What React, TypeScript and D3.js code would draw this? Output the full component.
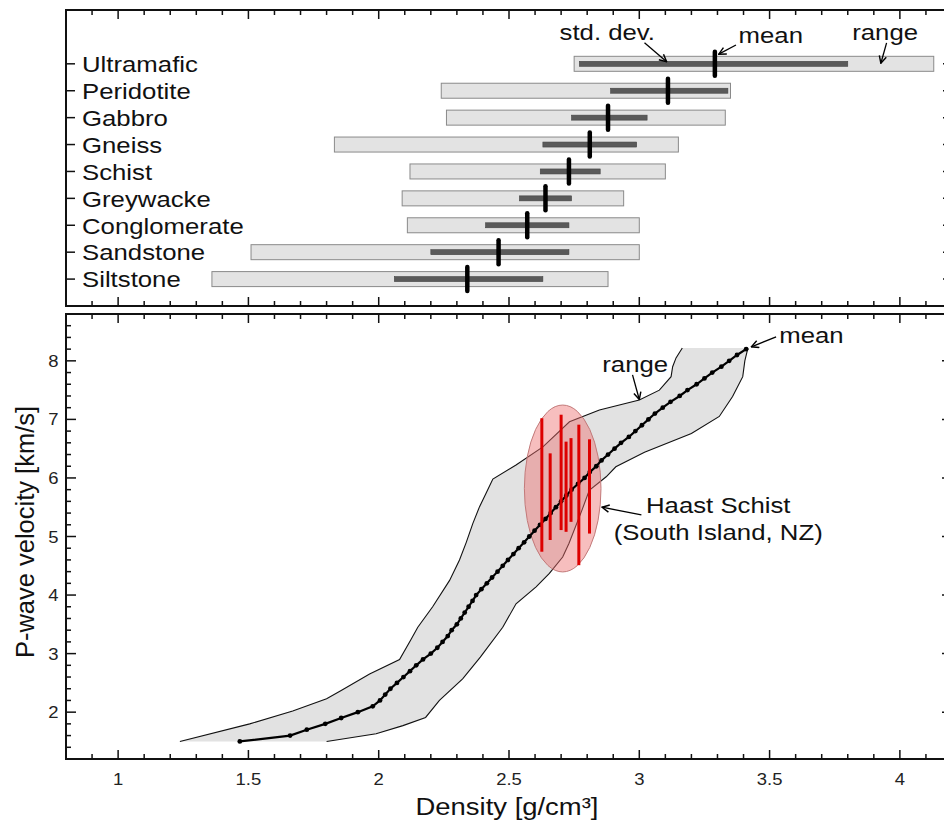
import React, { useEffect, useRef } from 'react'
import * as d3 from 'd3'

// top panel: density of rock types
const rockTypes = ['Siltstone', 'Sandstone', 'Conglomerate', 'Greywacke', 'Schist', 'Gneiss', 'Gabbro', 'Peridotite', 'Ultramafic']
const rangeMin = [1.36, 1.51, 2.11, 2.09, 2.12, 1.83, 2.26, 2.24, 2.75]
const rangeMax = [2.88, 3.0, 3.0, 2.94, 3.1, 3.15, 3.33, 3.35, 4.13]
const sdMin = [2.06, 2.2, 2.41, 2.54, 2.62, 2.63, 2.74, 2.89, 2.77]
const sdMax = [2.63, 2.73, 2.73, 2.74, 2.85, 2.99, 3.03, 3.34, 3.8]
const meanDensity = [2.34, 2.46, 2.57, 2.64, 2.73, 2.81, 2.88, 3.11, 3.29]

// bottom panel: Vp vs density
const meanVel = [1.5, 1.6, 1.7, 1.8, 1.9, 2.0, 2.1, 2.2, 2.3, 2.4, 2.5, 2.6, 2.7, 2.8, 2.9, 3.0, 3.1, 3.2, 3.3, 3.4, 3.5, 3.6, 3.7, 3.8, 3.9, 4.0, 4.1, 4.2, 4.3, 4.4, 4.5, 4.6, 4.7, 4.8, 4.9, 5.0, 5.1, 5.2, 5.3, 5.4, 5.5, 5.6, 5.7, 5.8, 5.9, 6.0, 6.1, 6.2, 6.3, 6.4, 6.5, 6.6, 6.7, 6.8, 6.9, 7.0, 7.1, 7.2, 7.3, 7.4, 7.5, 7.6, 7.7, 7.8, 7.9, 8.0, 8.1, 8.2]
const meanDens = [1.467, 1.66, 1.724, 1.795, 1.856, 1.92, 1.977, 2.005, 2.025, 2.045, 2.07, 2.095, 2.12, 2.144, 2.17, 2.2, 2.225, 2.245, 2.265, 2.28, 2.3, 2.315, 2.33, 2.345, 2.36, 2.374, 2.394, 2.415, 2.435, 2.456, 2.476, 2.496, 2.517, 2.537, 2.558, 2.578, 2.598, 2.619, 2.64, 2.66, 2.68, 2.7, 2.72, 2.74, 2.765, 2.79, 2.81, 2.835, 2.855, 2.88, 2.905, 2.93, 2.96, 2.985, 3.01, 3.035, 3.06, 3.09, 3.12, 3.155, 3.185, 3.22, 3.25, 3.28, 3.315, 3.345, 3.375, 3.41]

const lowVel = [1.5, 1.8, 2.02, 2.23, 2.37, 2.65, 2.9, 3.25, 3.45, 3.8, 4.25, 4.6, 4.9, 5.22, 5.51, 5.74, 5.98, 6.22, 6.53, 6.96, 7.16, 7.33, 7.5, 7.73, 7.9, 8.05, 8.22]
const lowDens = [1.237, 1.505, 1.67, 1.8, 1.856, 1.965, 2.08, 2.125, 2.15, 2.207, 2.272, 2.31, 2.336, 2.361, 2.387, 2.412, 2.438, 2.527, 2.63, 2.732, 2.847, 3.0, 3.077, 3.122, 3.128, 3.141, 3.165]
const highVel = [1.5, 1.63, 1.77, 1.91, 2.2, 2.57, 2.94, 3.45, 3.85, 4.14, 4.37, 4.65, 4.88, 5.45, 5.79, 6.02, 6.19, 6.44, 6.76, 7.05, 7.39, 7.73, 8.0, 8.22]
const highDens = [1.8, 1.99, 2.093, 2.18, 2.233, 2.322, 2.39, 2.476, 2.527, 2.604, 2.655, 2.706, 2.73, 2.78, 2.808, 2.873, 2.91, 3.02, 3.2, 3.307, 3.358, 3.397, 3.405, 3.417]

// Haast Schist samples
const haastDens = [2.626, 2.658, 2.7, 2.719, 2.738, 2.768, 2.809]
const haastVmin = [4.74, 4.94, 5.11, 5.08, 5.25, 4.51, 5.05]
const haastVmax = [7.02, 6.42, 7.08, 6.62, 6.68, 6.91, 6.66]

const W = 944
const H = 823
const FONT = '"Liberation Sans", Arial, sans-serif'
const SX = 1.12

export default function App() {
  const ref = useRef<SVGSVGElement>(null)

  useEffect(() => {
    const svg = d3.select(ref.current)
    svg.selectAll('*').remove()

    const left = 66, right = 952
    const top1 = 10, bot1 = 306
    const top2 = 314, bot2 = 759

    const x = d3.scaleLinear().domain([0.8, 4.2]).range([left, right])
    const yCat = d3.scaleLinear().domain([0, 11]).range([bot1, top1])
    const yV = d3.scaleLinear().domain([1.2, 8.8]).range([bot2, top2])

    const defs = svg.append('defs')
    defs.append('marker')
      .attr('id', 'arr')
      .attr('viewBox', '0 0 10 10')
      .attr('refX', 9).attr('refY', 5)
      .attr('markerWidth', 9).attr('markerHeight', 9)
      .attr('markerUnits', 'userSpaceOnUse')
      .attr('orient', 'auto')
      .append('path')
      .attr('d', 'M1,1 L9,5 L1,9')
      .attr('fill', 'none')
      .attr('stroke', '#000')
      .attr('stroke-width', 1.6)

    const text = (g: any, px: number, py: number, s: string, size: number, anchor = 'start') =>
      g.append('text')
        .attr('transform', `translate(${px},${py}) scale(${SX},1)`)
        .attr('text-anchor', anchor)
        .attr('font-family', FONT)
        .attr('font-size', size)
        .attr('fill', '#111')
        .text(s)

    const arrow = (g: any, x1: number, y1: number, x2: number, y2: number) =>
      g.append('line')
        .attr('x1', x1).attr('y1', y1).attr('x2', x2).attr('y2', y2)
        .attr('stroke', '#000').attr('stroke-width', 1.3)
        .attr('marker-end', 'url(#arr)')

    const xMajor = x.ticks(7)
    const xMinor = x.ticks(34)

    const xTicks = (g: any, yPos: number, dir: number) => {
      xMinor.forEach((t) => {
        const len = xMajor.some((m) => Math.abs(m - t) < 1e-6) ? 9 : 5
        g.append('line')
          .attr('x1', x(t)).attr('x2', x(t))
          .attr('y1', yPos).attr('y2', yPos + dir * len)
          .attr('stroke', '#111').attr('stroke-width', 1.5)
      })
    }

    // ---------- top panel ----------
    const g1 = svg.append('g')

    rockTypes.forEach((name, i) => {
      const cy = yCat(i + 1)
      g1.append('rect')
        .attr('x', x(rangeMin[i]))
        .attr('y', cy - 7.5)
        .attr('width', x(rangeMax[i]) - x(rangeMin[i]))
        .attr('height', 15)
        .attr('fill', '#e3e3e3')
        .attr('stroke', '#8a8a8a')
        .attr('stroke-width', 1)
      g1.append('rect')
        .attr('x', x(sdMin[i]))
        .attr('y', cy - 2.5)
        .attr('width', x(sdMax[i]) - x(sdMin[i]))
        .attr('height', 5)
        .attr('fill', '#5a5a5a')
        .attr('stroke', '#444')
        .attr('stroke-width', 0.6)
      g1.append('line')
        .attr('x1', x(meanDensity[i])).attr('x2', x(meanDensity[i]))
        .attr('y1', cy - 12).attr('y2', cy + 12)
        .attr('stroke', '#000').attr('stroke-width', 4.5)
        .attr('stroke-linecap', 'round')
      // category ticks
      g1.append('line')
        .attr('x1', left).attr('x2', left + 9).attr('y1', cy).attr('y2', cy)
        .attr('stroke', '#111').attr('stroke-width', 1.5)
      g1.append('line')
        .attr('x1', right).attr('x2', right - 9).attr('y1', cy).attr('y2', cy)
        .attr('stroke', '#111').attr('stroke-width', 1.5)
      text(g1, left + 16, cy + 8.3, name, 23)
    })

    xTicks(g1, top1, 1)
    xTicks(g1, bot1, -1)
    g1.append('rect')
      .attr('x', left).attr('y', top1)
      .attr('width', right - left).attr('height', bot1 - top1)
      .attr('fill', 'none').attr('stroke', '#111').attr('stroke-width', 2)

    // top annotations
    text(g1, x(2.694), yCat(9.89), 'std. dev.', 23)
    arrow(g1, x(3.02), yCat(9.78), x(3.105), yCat(9.08))
    text(g1, x(3.381), yCat(9.78), 'mean', 23)
    arrow(g1, x(3.371), yCat(9.7), x(3.305), yCat(9.36))
    text(g1, x(3.817), yCat(9.89), 'range', 23)
    arrow(g1, x(3.949), yCat(9.78), x(3.927), yCat(9.02))

    // ---------- bottom panel ----------
    const g2 = svg.append('g')

    const lowPts = lowVel.map((v, i) => [lowDens[i], v] as [number, number])
    const highPts = highVel.map((v, i) => [highDens[i], v] as [number, number])
    const edge = d3.line<[number, number]>().x((d) => x(d[0])).y((d) => yV(d[1]))

    g2.append('path')
      .attr('d', edge([...lowPts, ...highPts.slice().reverse()]) + 'Z')
      .attr('fill', '#e2e2e2')
      .attr('stroke', 'none')
    ;[lowPts, highPts].forEach((pts) => {
      g2.append('path')
        .attr('d', edge(pts))
        .attr('fill', 'none')
        .attr('stroke', '#111')
        .attr('stroke-width', 1.1)
    })

    // Haast Schist ellipse
    const ec = [2.706, 5.82]
    g2.append('ellipse')
      .attr('cx', x(ec[0]))
      .attr('cy', yV(ec[1]))
      .attr('rx', x(ec[0] + 0.147) - x(ec[0]))
      .attr('ry', yV(ec[1] - 1.425) - yV(ec[1]))
      .attr('fill', 'rgba(238, 110, 110, 0.45)')
      .attr('stroke', '#c27a7a')
      .attr('stroke-width', 1)

    // mean curve
    const meanPts = meanVel.map((v, i) => [meanDens[i], v] as [number, number])
    g2.append('path')
      .attr('d', edge(meanPts))
      .attr('fill', 'none')
      .attr('stroke', '#000')
      .attr('stroke-width', 2.2)
    g2.selectAll('circle.m')
      .data(meanPts)
      .enter()
      .append('circle')
      .attr('class', 'm')
      .attr('cx', (d) => x(d[0]))
      .attr('cy', (d) => yV(d[1]))
      .attr('r', 2.4)
      .attr('fill', '#000')

    // Haast Schist samples
    haastDens.forEach((d, i) => {
      g2.append('line')
        .attr('x1', x(d)).attr('x2', x(d))
        .attr('y1', yV(haastVmin[i])).attr('y2', yV(haastVmax[i]))
        .attr('stroke', '#dd0000').attr('stroke-width', 3)
    })

    // axes
    xTicks(g2, top2, 1)
    xTicks(g2, bot2, -1)
    const yMajor = yV.ticks(7)
    const yMinor = yV.ticks(38)
    yMinor.forEach((t) => {
      const len = yMajor.some((m) => Math.abs(m - t) < 1e-6) ? 10 : 5
      g2.append('line')
        .attr('x1', left).attr('x2', left + len)
        .attr('y1', yV(t)).attr('y2', yV(t))
        .attr('stroke', '#111').attr('stroke-width', 1.5)
      g2.append('line')
        .attr('x1', right).attr('x2', right - len)
        .attr('y1', yV(t)).attr('y2', yV(t))
        .attr('stroke', '#111').attr('stroke-width', 1.5)
    })
    g2.append('rect')
      .attr('x', left).attr('y', top2)
      .attr('width', right - left).attr('height', bot2 - top2)
      .attr('fill', 'none').attr('stroke', '#111').attr('stroke-width', 2)

    xMajor.forEach((t) => {
      text(g2, x(t), bot2 + 26, d3.format('~g')(t), 16.5, 'middle').attr('fill', '#222')
    })
    yMajor.forEach((t) => {
      text(g2, left - 7.5, yV(t) + 6, d3.format('~g')(t), 16.5, 'end').attr('fill', '#222')
    })

    text(g2, 507, 815, 'Density [g/cm³]', 24.5, 'middle')
    g2.append('text')
      .attr('transform', `translate(34,${532}) rotate(-90)`)
      .attr('text-anchor', 'middle')
      .attr('font-family', FONT)
      .attr('font-size', 25.5)
      .attr('fill', '#111')
      .text('P-wave velocity [km/s]')

    // bottom annotations
    text(g2, x(3.537), yV(8.31), 'mean', 23)
    arrow(g2, x(3.525), yV(8.41), x(3.43), yV(8.24))
    text(g2, x(2.858), yV(7.81), 'range', 23)
    arrow(g2, x(2.974), yV(7.76), x(3.0), yV(7.34))
    text(g2, x(3.303), yV(5.4), 'Haast Schist', 23, 'middle')
    text(g2, x(3.303), yV(4.94), '(South Island, NZ)', 23, 'middle')
    arrow(g2, x(3.008), yV(5.37), x(2.857), yV(5.5))
  }, [])

  return (
    <div style={{ position: 'absolute', left: 0, top: 0 }}>
      <svg ref={ref} width={W} height={H} style={{ display: 'block', background: '#fff' }} />
    </div>
  )
}
